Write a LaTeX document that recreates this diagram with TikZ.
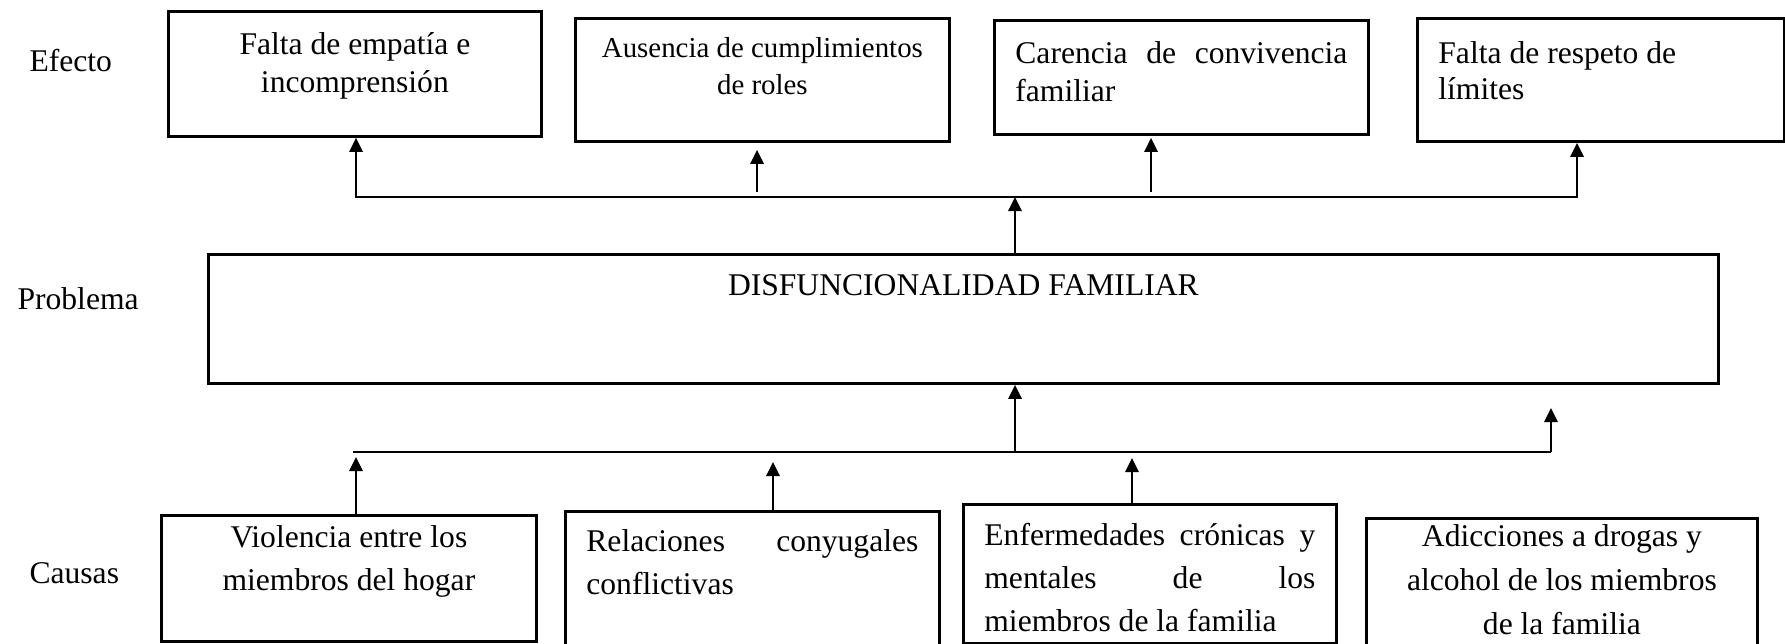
\documentclass[tikz,border=0pt]{standalone}
\usepackage{fontspec}
\setmainfont{Liberation Serif}
\usetikzlibrary{arrows.meta}
\newcommand{\twelve}[1][36]{\fontsize{31.6pt}{#1pt}\selectfont}
\newcommand{\eleven}[1][36]{\fontsize{28.9pt}{#1pt}\selectfont}

\begin{document}
\begin{tikzpicture}[x=1pt, y=-1pt,
		box/.style={draw, line width=2.8pt, anchor=north west, inner xsep=21pt, inner ysep=0pt},
		arr/.style={line width=2.7pt, -{Triangle[length=14pt, width=13pt]}},
		bar/.style={line width=2.5pt}]
		\useasboundingbox (0,0) rectangle (1785,643);
		% labels:
		\node[anchor=base west, font=\twelve] (efecto) at (26,71) {Efecto};
		\node[anchor=base west, font=\twelve] (problema) at (14,309) {Problema};
		\node[anchor=base west, font=\twelve] (causas) at (26,583) {Causas};
		
		% efectos
		\node[box] (e1) at (167,10) {\parbox[t][125pt][t]{331pt}{\twelve[38]\centering\rule{0pt}{43pt}Falta de empatía e\\incomprensión}};
		\node[box] (e2) at (574,17) {\parbox[t][123pt][t]{332pt}{\eleven[37]\centering\rule{0pt}{39pt}Ausencia de cumplimientos\\de roles}};
		\node[box] (e3) at (993,19) {\parbox[t][114pt][t]{332pt}{\twelve[38]\rule{0pt}{43pt}Carencia\hfill de\hfill convivencia\\familiar}};
		\node[box] (e4) at (1416,17) {\parbox[t][123pt][t]{325pt}{\twelve\raggedright\rule{0pt}{45pt}Falta de respeto de\\límites}};
		
		% problema
		\node[box] (prob) at (207,253) {\parbox[t][129pt][t]{1468pt}{\twelve\centering\rule{0pt}{41pt}DISFUNCIONALIDAD FAMILIAR}};
		
		% causas
		\node[box] (c1) at (160,514) {\parbox[t][126pt][t]{333pt}{\twelve[43]\centering\rule{0pt}{32pt}Violencia entre los\\miembros del hogar}};
		\node[box] (c2) at (564,510) {\parbox[t][150pt][t]{332pt}{\twelve[43]\rule{0pt}{40pt}Relaciones\hfill conyugales\\conflictivas}};
		\node[box] (c3) at (962,503) {\parbox[t][139pt][t]{331pt}{\twelve[43]\rule{0pt}{41pt}Enfermedades\hfill crónicas\hfill y\\mentales\hfill de\hfill los\\miembros de la familia}};
		\node[box] (c4) at (1365,517) {\parbox[t][150pt][t]{349pt}{\twelve[44]\centering\rule{0pt}{28pt}Adicciones a drogas y\\alcohol de los miembros\\de la familia}};
		
		% upper bar
		\coordinate (ub) at (1015,197);
		\coordinate (ul) at (356,197);
		\coordinate (ur) at (1577,197);
		\coordinate (a2) at (757,192);
		\coordinate (a3) at (1151,192);
		\draw[arr] (prob.north -| ub) -- (ub);
		\draw[arr] (ub) -| (e1.south -| ul);
		\draw[arr] (ub) -| (e4.south -| ur);
		\draw[arr, shorten >=7pt] (a2) -- (a2 |- e2.south);
		\draw[arr, shorten >=2pt] (a3) -- (a3 |- e3.south);
		
		% lower bar
		\coordinate (lb) at (1015,452);
		\coordinate (ll) at (353,452);
		\coordinate (lr) at (1551,452);
		\coordinate (lrtip) at (1551,408);
		\coordinate (t1) at (356,457);
		\coordinate (t2) at (773,462);
		\coordinate (t3) at (1132,458);
		\draw[bar] (ll) -- (lr);
		\draw[arr] (lb) -- (lb |- prob.south);
		\draw[arr] (lr) -- (lrtip);
		\draw[arr] (c1.north -| t1) -- (t1);
		\draw[arr] (c2.north -| t2) -- (t2);
		\draw[arr] (c3.north -| t3) -- (t3);
	\end{tikzpicture}
\end{document}
